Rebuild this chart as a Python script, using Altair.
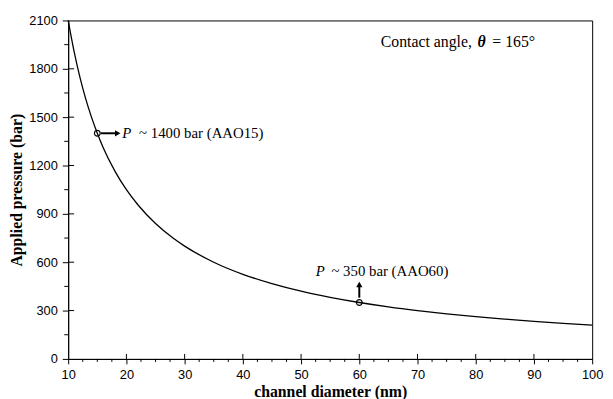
import altair as alt
import pandas as pd

# ---- data ----
diam = [10, 11, 12, 13, 14, 15, 16, 18, 20, 22, 25, 28, 30, 35, 40, 45, 50,
        55, 60, 65, 70, 75, 80, 85, 90, 95, 100]
pressure = [2100, 1910, 1750, 1615, 1500, 1400, 1312, 1167, 1050, 955, 840,
            750, 700, 600, 525, 467, 420, 382, 350, 323, 300, 280, 262, 247,
            233, 221, 210]

marker_d = [15, 60]
marker_p = [1400, 350]

x_major = [10, 20, 30, 40, 50, 60, 70, 80, 90, 100]
y_major = [0, 300, 600, 900, 1200, 1500, 1800, 2100]
x_minor = [12.5, 15, 17.5, 22.5, 25, 27.5, 32.5, 35, 37.5, 42.5, 45, 47.5,
           52.5, 55, 57.5, 62.5, 65, 67.5, 72.5, 75, 77.5, 82.5, 85, 87.5,
           92.5, 95, 97.5]
y_minor = [150, 450, 750, 1050, 1350, 1650, 1950]

# arrows (annotation)
arrow_x1 = [15.6, 18.4]
arrow_x2 = [18.4, 60]
arrow_x1 = [15.6, 60]
arrow_x2 = [18.4, 60]
arrow_y1 = [1400, 380]
arrow_y2 = [1400, 450]
head_r_x, head_r_y = [18.5], [1400]
head_u_x, head_u_y = [60], [462]

W, H = 531, 343
SERIF = "Liberation Serif"
SANS = "Liberation Sans"
FS = 15

xs = alt.Scale(domain=[10, 100], nice=False, zero=False)
ys = alt.Scale(domain=[0, 2100], nice=False)

curve_df = pd.DataFrame({"d": diam, "p": pressure})
mk_df = pd.DataFrame({"d": marker_d, "p": marker_p})
arr_df = pd.DataFrame({"x1": arrow_x1, "x2": arrow_x2, "y1": arrow_y1, "y2": arrow_y2})

X = alt.X("d:Q", scale=xs, title="channel diameter (nm)",
          axis=alt.Axis(values=x_major, tickSize=5, labelPadding=5,
                        labelFlush=False, titlePadding=2, grid=False, format="d"))
Y = alt.Y("p:Q", scale=ys, title="Applied pressure (bar)",
          axis=alt.Axis(values=y_major, tickSize=6, labelPadding=5,
                        labelFlush=False, titlePadding=4, grid=False, format="d"))

curve = alt.Chart(curve_df).mark_line(color="black", strokeWidth=1.3,
                                      interpolate="monotone").encode(x=X, y=Y)

markers = alt.Chart(mk_df).mark_point(shape="circle", filled=False, size=34,
                                      color="black", strokeWidth=1.2,
                                      opacity=1).encode(x="d:Q", y="p:Q")

shafts = alt.Chart(arr_df).mark_rule(color="black", strokeWidth=2).encode(
    x="x1:Q", x2="x2:Q", y="y1:Q", y2="y2:Q")

head_r = alt.Chart(pd.DataFrame({"d": head_r_x, "p": head_r_y})).mark_point(
    shape="triangle-right", filled=True, size=40, color="black", opacity=1
).encode(x="d:Q", y="p:Q")
head_u = alt.Chart(pd.DataFrame({"d": head_u_x, "p": head_u_y})).mark_point(
    shape="triangle-up", filled=True, size=40, color="black", opacity=1
).encode(x="d:Q", y="p:Q")

# inward major ticks & outward minor ticks
xin = alt.Chart(pd.DataFrame({"d": x_major[1:-1]})).mark_rule(
    color="black", strokeWidth=1).encode(x="d:Q", y=alt.value(H), y2=alt.value(H - 5))
yin = alt.Chart(pd.DataFrame({"p": y_major[1:-1]})).mark_rule(
    color="black", strokeWidth=1).encode(y="p:Q", x=alt.value(0), x2=alt.value(6))
xmin_t = alt.Chart(pd.DataFrame({"d": x_minor})).mark_rule(
    color="black", strokeWidth=1).encode(x="d:Q", y=alt.value(H), y2=alt.value(H + 3))
ymin_t = alt.Chart(pd.DataFrame({"p": y_minor})).mark_rule(
    color="black", strokeWidth=1).encode(y="p:Q", x=alt.value(0), x2=alt.value(-4))


def txt(s, x, y, dx=0, style="normal", weight="normal", fs=FS):
    return alt.Chart(pd.DataFrame({"d": [x], "p": [y], "t": [s]})).mark_text(
        align="left", baseline="middle", font=SERIF, fontSize=fs, color="black",
        fontStyle=style, fontWeight=weight, dx=dx
    ).encode(x="d:Q", y="p:Q", text="t:N")


texts = [
    txt("P", 19.3, 1400, style="italic"),
    txt("~ 1400 bar (AAO15)", 19.3, 1400, dx=17),
    txt("P", 52.5, 545, style="italic"),
    txt("~ 350 bar (AAO60)", 52.5, 545, dx=16),
    txt("Contact angle,", 63.7, 1965, fs=16),
    txt("θ", 63.7, 1965, dx=98, style="italic", weight="bold", fs=16),
    txt("= 165°", 63.7, 1965, dx=113, fs=16),
]

chart = alt.layer(curve, xmin_t, ymin_t, xin, yin, shafts, head_r, head_u,
                  markers, *texts).properties(
    width=W, height=H,
    background="white",
    autosize=alt.AutoSizeParams(type="none"),
    padding={"left": 61, "top": 10, "right": 13, "bottom": 38},
).configure_view(stroke="black", strokeWidth=1).configure_axis(
    domainColor="black", tickColor="black", labelColor="black",
    titleColor="black", labelFont=SANS, labelFontSize=13,
    titleFont=SERIF, titleFontSize=16, titleFontWeight="bold",
    domainWidth=1, tickWidth=1
)

chart.save("out.html", embed_options={"renderer": "svg", "actions": False})
